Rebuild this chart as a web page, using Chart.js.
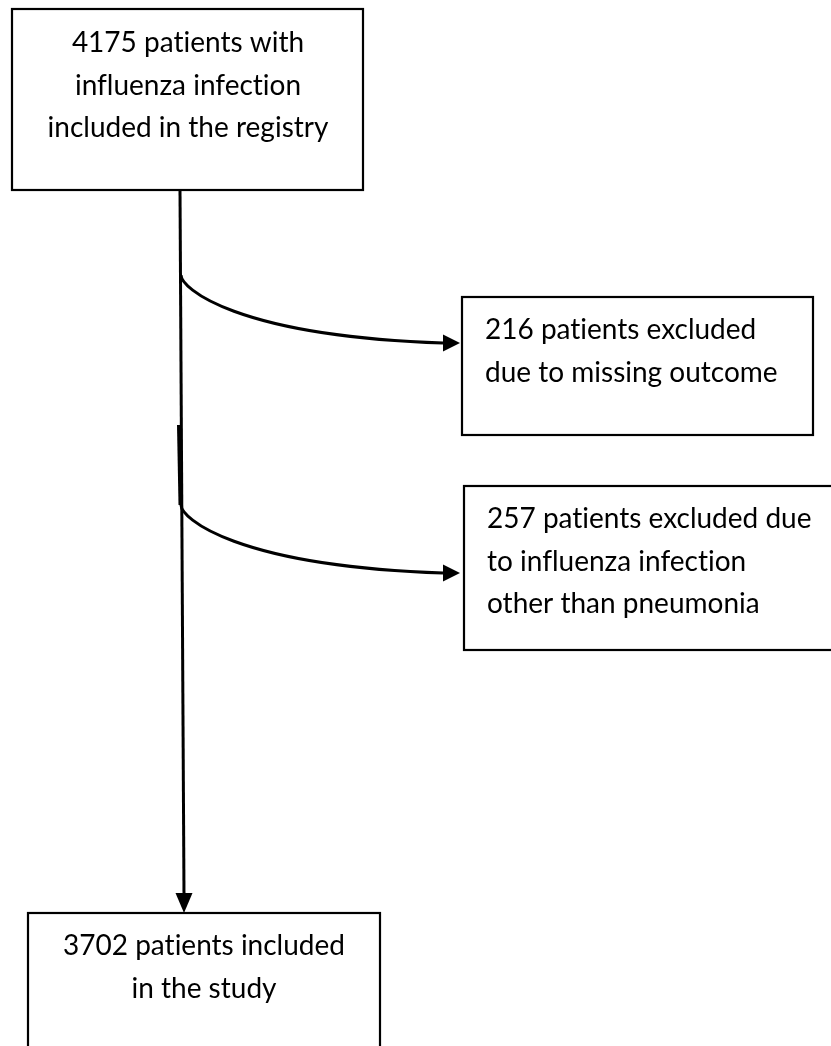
<!DOCTYPE html>
<html>
<head>
<meta charset="utf-8">
<script src="https://cdn.jsdelivr.net/npm/chart.js@4.4.1/dist/chart.umd.min.js"></script>
<style>
  html, body { margin: 0; padding: 0; background: #fff; }
  #flow { display: block; }
</style>
</head>
<body>
<canvas id="flow" width="831" height="1046"></canvas>
<script>
// patient counts at each step of the flow
const counts = [4175, 216, 257, 3702];

const boxText = [
  [counts[0] + " patients with", "influenza infection", "included in the registry"],
  [counts[1] + " patients excluded", "due to missing outcome"],
  [counts[2] + " patients excluded due", "to influenza infection", "other than pneumonia"],
  [counts[3] + " patients included", "in the study"],
];

// layout (page pixels, y down)
const boxes = [
  { x0: 12, y0: 9, x1: 363, y1: 190, align: "center", tx: 188, ty: 43 },
  { x0: 462, y0: 297, x1: 813, y1: 435, align: "left", tx: 485, ty: 330 },
  { x0: 464, y0: 486, x1: 842, y1: 650, align: "left", tx: 487, ty: 519 },
  { x0: 28, y0: 913, x1: 380, y1: 1070, align: "center", tx: 204, ty: 946 },
];
const lineGap = 42.5;

const branches = [
  { from: [181, 275], c1: [181, 288], c2: [235, 336], to: [460, 343] },
  { from: [181, 505], c1: [181, 518], c2: [235, 566], to: [460, 573] },
];

const flowPlugin = {
  id: "flow",
  afterDraw(chart) {
    const { ctx, scales: { x, y } } = chart;
    const X = v => x.getPixelForValue(v);
    const Y = v => y.getPixelForValue(v);
    const head = 17, half = 8.5;

    ctx.save();
    ctx.strokeStyle = "#000";
    ctx.fillStyle = "#000";

    // boxes and their text
    ctx.lineWidth = 2.2;
    ctx.font = "28px Lato";
    ctx.textRendering = "optimizeSpeed"; // no "ti" ligature
    ctx.textBaseline = "middle";
    boxes.forEach((b, i) => {
      ctx.strokeRect(X(b.x0), Y(b.y0), X(b.x1) - X(b.x0), Y(b.y1) - Y(b.y0));
      ctx.textAlign = b.align;
      boxText[i].forEach((t, k) => ctx.fillText(t, X(b.tx), Y(b.ty + k * lineGap)));
    });

    // main vertical line down to the study box
    ctx.lineWidth = 3;
    ctx.beginPath();
    ctx.moveTo(X(180), Y(190));
    ctx.lineTo(X(184), Y(913 - 18));
    ctx.stroke();
    ctx.beginPath();
    ctx.moveTo(X(178.5), Y(425));
    ctx.lineTo(X(180), Y(505));
    ctx.stroke();
    ctx.beginPath();
    ctx.moveTo(X(184), Y(913));
    ctx.lineTo(X(184 - half), Y(913 - 20));
    ctx.lineTo(X(184 + half), Y(913 - 20));
    ctx.closePath();
    ctx.fill();

    // curved exclusion arrows
    branches.forEach(br => {
      const [tx, ty] = br.to;
      ctx.beginPath();
      ctx.moveTo(X(br.from[0]), Y(br.from[1]));
      ctx.bezierCurveTo(X(br.c1[0]), Y(br.c1[1]), X(br.c2[0]), Y(br.c2[1]), X(tx - head), Y(ty));
      ctx.stroke();
      ctx.beginPath();
      ctx.moveTo(X(tx), Y(ty));
      ctx.lineTo(X(tx - head), Y(ty - half));
      ctx.lineTo(X(tx - head), Y(ty + half));
      ctx.closePath();
      ctx.fill();
    });
    ctx.restore();
  }
};

new Chart(document.getElementById("flow"), {
  type: "scatter",
  data: { datasets: [] },
  options: {
    responsive: false,
    animation: false,
    layout: { padding: 0 },
    plugins: { legend: { display: false }, tooltip: { enabled: false } },
    scales: {
      x: { type: "linear", min: 0, max: 831, display: false },
      y: { type: "linear", min: 0, max: 1046, reverse: true, display: false },
    },
  },
  plugins: [flowPlugin],
});
</script>
</body>
</html>
